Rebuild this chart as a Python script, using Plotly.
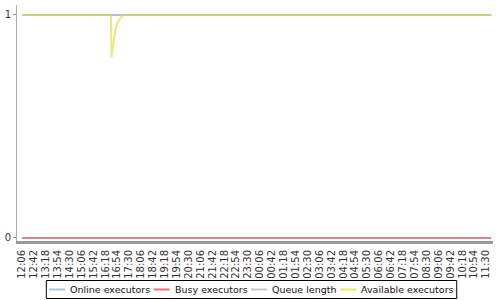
import plotly.graph_objects as go

# ---------------- data ----------------
tick_labels = ["12:06", "12:42", "13:18", "13:54", "14:30", "15:06", "15:42", "16:18",
               "16:54", "17:30", "18:06", "18:42", "19:18", "19:54", "20:30", "21:06",
               "21:42", "22:18", "22:54", "23:30", "00:06", "00:42", "01:18", "01:54",
               "02:30", "03:06", "03:42", "04:18", "04:54", "05:30", "06:06", "06:42",
               "07:18", "07:54", "08:30", "09:06", "09:42", "10:18", "10:54", "11:30"]

online_times = ["12:06", "11:46"]
online_values = [1, 1]

busy_times = ["12:06", "11:46"]
busy_values = [0, 0]

queue_times = ["12:06", "11:46"]
queue_values = [0, 0]

available_times = ["12:06", "16:35", "16:37", "16:39", "16:45", "16:52", "17:00", "17:08", "17:14", "11:46"]
available_values = [1, 1, 0.81, 0.84, 0.897, 0.955, 0.98, 0.993, 1, 1]

series_names = ["Online executors", "Busy executors", "Queue length", "Available executors"]
series_colors = ["#a9c4e2", "#ee6f6f", "#c8c8c8", "#f2e46a"]
plot_colors = ["#a9c4e2", "#e07070", "#c8c8c8", "#e4d632"]

START = "12:06"


def to_min(t):
    h, m = map(int, t.split(":"))
    sh, sm = map(int, START.split(":"))
    d = (h * 60 + m) - (sh * 60 + sm)
    if d < 0:
        d += 24 * 60
    return d


tick_vals = [to_min(t) for t in tick_labels]

W, H = 500, 300
ML, MR, MT, MB = 14, 7, 5, 59
PW = W - ML - MR
PH = H - MT - MB


def px(x):
    return (x - ML) / PW


def py(y):
    return (H - MB - y) / PH


fig = go.Figure()

series = [
    (online_times, online_values, 0, 2, 1.0),
    (queue_times, queue_values, 2, 2, 1.0),
    (busy_times, busy_values, 1, 1.5, 1.0),
    (available_times, available_values, 3, 2, 0.6),
]
for times, vals, idx, w, op in series:
    fig.add_trace(go.Scatter(
        x=[to_min(t) for t in times], y=vals, mode="lines",
        name=series_names[idx], line=dict(color=plot_colors[idx], width=w),
        opacity=op, showlegend=False, hoverinfo="skip"))

# ---------------- manual legend ----------------
shapes = [dict(type="rect", xref="paper", yref="paper",
               x0=px(43.5), x1=px(456.5), y0=py(298.5), y1=py(280.5),
               line=dict(color="#000000", width=1), fillcolor="white", layer="above")]
annotations = []
line_starts = [46.5, 151.5, 249.5, 339.5]
for i, name in enumerate(series_names):
    x0 = line_starts[i]
    shapes.append(dict(type="line", xref="paper", yref="paper",
                       x0=px(x0), x1=px(x0 + 16), y0=py(289.5), y1=py(289.5),
                       line=dict(color=series_colors[i], width=2), layer="above"))
    annotations.append(dict(xref="paper", yref="paper", x=px(x0 + 19), y=py(289.5),
                            text=name, showarrow=False, xanchor="left", yanchor="middle",
                            font=dict(family="DejaVu Sans", size=9.5, color="#111111")))

fig.update_layout(
    width=W, height=H,
    margin=dict(l=ML, r=MR, t=MT, b=MB, pad=0),
    paper_bgcolor="white", plot_bgcolor="white",
    font=dict(family="DejaVu Sans", size=10, color="#333333"),
    shapes=shapes, annotations=annotations,
    xaxis=dict(range=[-15, 1425], tickmode="array", tickvals=tick_vals, ticktext=tick_labels,
               tickangle=-90, showgrid=False, zeroline=False, showline=True,
               linecolor="#9a9a9a", linewidth=3, ticks="", ticklen=0,
               ticklabelstandoff=2,
               tickfont=dict(size=10, color="#333333")),
    yaxis=dict(range=[-0.0135, 1.0448], tickmode="array", tickvals=[0, 1], ticktext=["0", "1"],
               showgrid=False, zeroline=False, showline=True, linecolor="#b0b0b0", linewidth=1,
               ticks="outside", ticklen=3, tickcolor="#999999",
               tickfont=dict(size=10, color="#333333")),
)

fig.write_html("out.html")
